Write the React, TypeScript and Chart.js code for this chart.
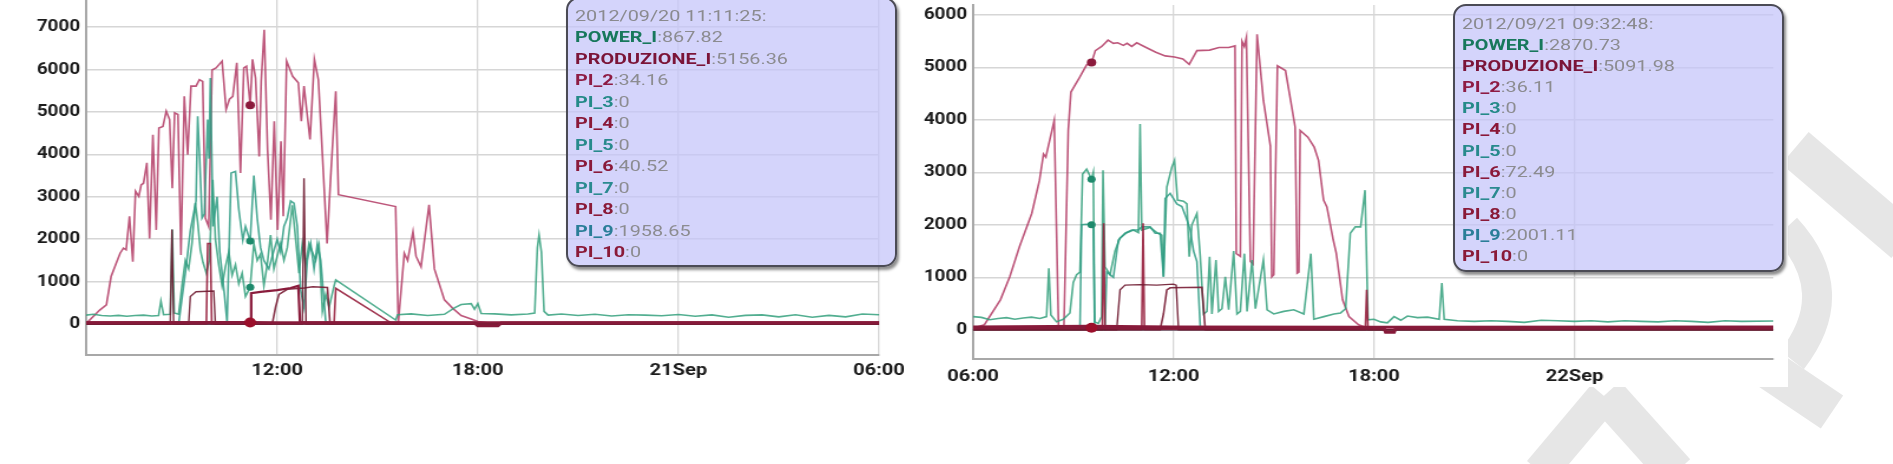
import React, { useEffect, useRef } from "react";
import { Chart, registerables } from "chart.js";

Chart.register(...registerables);

type Pt = [number, number];

// ---------------- DATA ----------------
const SERIES_NAMES = ["POWER_I", "PRODUZIONE_I", "PI_2", "PI_3", "PI_4", "PI_5", "PI_6", "PI_7", "PI_8", "PI_9", "PI_10"];

// Left chart: hours counted from 2012-09-20 00:00
const LEFT_HOVER = 11 + 11 / 60 + 25 / 3600;
const LEFT_HOVER_LABEL = "2012/09/20 11:11:25";
const LEFT_X_TICKS = [12, 18, 24, 30];
const LEFT_X_LABELS = ["12:00", "18:00", "21Sep", "06:00"];
const LEFT_Y_TICKS = [0, 1000, 2000, 3000, 4000, 5000, 6000, 7000];
const LEFT_X_RANGE = [6.28, 30];
const LEFT_Y_RANGE = [-730, 7640];

const L_POWER_I: Pt[] = [
  [6.28, 210], [6.5, 230], [6.75, 200], [7.0, 190], [7.25, 205], [7.5, 185], [7.75, 200], [8.0, 210], [8.25, 190], [8.45, 200],
  [8.52, 540], [8.6, 220], [8.8, 230], [8.86, 2230], [8.92, 260], [9.05, 230], [9.15, 900], [9.25, 1500], [9.35, 1300], [9.45, 1900],
  [9.55, 2850], [9.62, 2400], [9.7, 1750], [9.78, 1450], [9.88, 1200], [9.97, 1500], [10.07, 3400], [10.15, 2000], [10.25, 1400],
  [10.35, 900], [10.45, 1350], [10.55, 1700], [10.65, 1150], [10.75, 1400], [10.85, 950], [10.95, 1200], [11.05, 650],
  [LEFT_HOVER, 867.82], [11.3, 1900], [11.4, 1500], [11.5, 1650], [11.6, 900], [11.7, 1400], [11.8, 2100], [11.9, 1300], [12.0, 1600],
  [12.1, 1900], [12.2, 1500], [12.3, 1800], [12.45, 2800], [12.55, 2000], [12.65, 1200], [12.75, 1900], [12.85, 1400], [12.95, 1900],
  [13.05, 1700], [13.15, 1500], [13.25, 1850], [13.35, 300], [13.45, 700], [13.55, 400], [13.7, 900], [13.75, 1040], [15.54, 95],
  [15.6, 220], [16.0, 240], [16.5, 200], [17.0, 230], [17.3, 380], [17.5, 460], [17.8, 480], [17.9, 350], [18.0, 480], [18.1, 250],
  [18.5, 240], [19.0, 215], [19.5, 235], [19.7, 260], [19.78, 1800], [19.83, 2100], [19.9, 1700], [19.98, 300], [20.1, 210],
  [20.5, 235], [21.0, 200], [21.5, 230], [22.0, 190], [22.5, 220], [23.0, 210], [23.5, 195], [24.0, 225], [24.5, 185], [25.0, 215],
  [25.5, 160], [26.0, 205], [26.5, 215], [27.0, 170], [27.5, 220], [28.0, 160], [28.5, 205], [29.0, 170], [29.5, 235], [30.0, 220],
];
const L_PRODUZIONE_I: Pt[] = [
  [6.28, 10], [6.69, 330], [6.89, 450], [7.03, 1120], [7.18, 1430], [7.3, 1670], [7.4, 1790], [7.48, 1750], [7.58, 2540], [7.68, 1470],
  [7.76, 3130], [7.86, 3010], [7.93, 3280], [8.0, 3320], [8.1, 3800], [8.18, 2020], [8.28, 4460], [8.38, 2220], [8.46, 4620],
  [8.58, 4660], [8.68, 5020], [8.78, 4820], [8.86, 3200], [8.93, 4980], [9.03, 4940], [9.12, 1630], [9.22, 5370], [9.32, 3990],
  [9.42, 5610], [9.57, 5610], [9.67, 5760], [9.77, 5720], [9.85, 2500], [9.95, 2300], [10.05, 5990], [10.17, 6040], [10.35, 6200],
  [10.47, 5060], [10.57, 5300], [10.67, 5370], [10.79, 6160], [10.9, 3560], [11.0, 6040], [11.08, 6080], [LEFT_HOVER, 5156.36],
  [11.26, 6240], [11.35, 5800], [11.46, 3950], [11.52, 5720], [11.61, 6940], [11.71, 4110], [11.81, 2460], [11.91, 4780],
  [12.01, 2220], [12.11, 4310], [12.18, 2540], [12.28, 6200], [12.46, 5840], [12.63, 5690], [12.72, 4780], [12.8, 5610],
  [12.98, 4350], [13.11, 6240], [13.23, 5760], [13.35, 4000], [13.49, 1900], [13.6, 3500], [13.75, 5490], [13.83, 3050],
  [15.54, 2770], [15.62, 20], [15.8, 1670], [15.9, 1500], [16.06, 2180], [16.15, 1600], [16.3, 1350], [16.54, 2810], [16.7, 1300],
  [17.0, 570], [17.25, 370], [17.5, 200], [17.8, 120], [18.0, 60], [18.4, 20], [20, 15], [22, 20], [24, 10], [26, 20], [28, 15], [30, 20],
];
const L_PI_2: Pt[] = [
  [6.28, 30], [LEFT_HOVER, 34.16], [12.0, 30], [17.9, 25], [18.0, -40], [18.6, -40], [18.7, 25], [24, 30], [30, 30],
];
const L_PI_3: Pt[] = [[6.28, 0], [LEFT_HOVER, 0], [30, 0]];
const L_PI_4: Pt[] = [
  [6.28, 0], [8.8, 0], [8.85, 2230], [8.9, 0], [9.35, 0], [9.4, 650], [9.57, 760], [10.1, 780], [10.15, 0], [LEFT_HOVER, 0],
  [12.75, 0], [12.8, 3440], [12.86, 0], [30, 0],
];
const L_PI_5: Pt[] = [[6.28, 0], [LEFT_HOVER, 0], [30, 0]];
const L_PI_6: Pt[] = [[6.28, 40], [LEFT_HOVER, 40.52], [11.22, 730], [11.5, 760], [12.0, 800], [12.4, 850], [12.63, 900], [12.68, 40], [30, 40]];
const L_PI_7: Pt[] = [[6.28, 0], [LEFT_HOVER, 0], [30, 0]];
const L_PI_8: Pt[] = [
  [6.28, 0], [LEFT_HOVER, 0], [11.85, 0], [11.95, 400], [12.05, 700], [12.3, 820], [12.8, 850], [13.06, 880], [13.5, 860], [13.58, 0], [30, 0],
];
const L_PI_9: Pt[] = [
  [6.28, 0], [9.05, 0], [9.25, 1200], [9.4, 2200], [9.57, 2900], [9.62, 4900], [9.68, 3900], [9.75, 2500], [9.82, 2600], [9.92, 4820],
  [9.96, 3900], [10.0, 5800], [10.08, 2300], [10.2, 3000], [10.28, 1700], [10.42, 700], [10.5, 30], [10.62, 3560], [10.75, 3600],
  [10.85, 2700], [10.97, 1980], [11.05, 2300], [LEFT_HOVER, 1958.65], [11.3, 3500], [11.4, 2500], [11.5, 1800], [11.6, 1500],
  [11.75, 1300], [11.85, 1600], [12.0, 2000], [12.1, 1700], [12.2, 2300], [12.3, 2500], [12.4, 2900], [12.5, 2850], [12.6, 2300],
  [12.7, 800], [12.8, 400], [12.9, 1500], [13.0, 1900], [13.1, 1300], [13.2, 1900], [13.3, 1500], [13.45, 60], [13.6, 0], [30, 0],
];
const L_PI_10: Pt[] = [[6.28, 0], [9.88, 0], [9.92, 1900], [10.0, 1900], [10.04, 0], [LEFT_HOVER, 0], [13.7, 0], [13.75, 840], [15.46, 0], [30, 0]];

// Right chart: hours counted from 2012-09-21 00:00
const RIGHT_HOVER = 9 + 32 / 60 + 48 / 3600;
const RIGHT_HOVER_LABEL = "2012/09/21 09:32:48";
const RIGHT_X_TICKS = [6, 12, 18, 24];
const RIGHT_X_LABELS = ["06:00", "12:00", "18:00", "22Sep"];
const RIGHT_Y_TICKS = [0, 1000, 2000, 3000, 4000, 5000, 6000];
const RIGHT_X_RANGE = [6, 29.95];
const RIGHT_Y_RANGE = [-558, 6190];

const R_POWER_I: Pt[] = [
  [6.0, 250], [6.25, 235], [6.5, 190], [6.75, 215], [7.0, 230], [7.25, 200], [7.5, 225], [7.75, 240], [8.0, 215], [8.2, 250],
  [8.27, 1170], [8.33, 280], [8.5, 150], [8.7, 200], [8.9, 320], [9.0, 900], [9.1, 1050], [9.2, 1100], [9.28, 2970], [9.4, 3060],
  [RIGHT_HOVER, 2870.73], [9.6, 3000], [9.64, 150], [9.75, 120], [9.85, 250], [9.89, 3040], [9.95, 1200], [10.1, 1050],
  [10.25, 1500], [10.4, 1750], [10.6, 1850], [10.8, 1900], [10.95, 1850], [11.0, 3920], [11.05, 1900], [11.3, 1950], [11.5, 1850],
  [11.65, 1800], [11.7, 1010], [11.8, 2720], [11.95, 3100], [12.03, 3230], [12.12, 2470], [12.3, 2450], [12.4, 2400], [12.47, 1390],
  [12.55, 2000], [12.7, 2215], [12.8, 1400], [12.9, 300], [13.0, 350], [13.08, 1390], [13.15, 300], [13.27, 1330], [13.35, 350],
  [13.45, 400], [13.55, 1010], [13.65, 380], [13.8, 1500], [13.9, 300], [14.0, 350], [14.12, 1450], [14.2, 350], [14.35, 1330],
  [14.45, 400], [14.69, 1330], [14.8, 380], [15.0, 300], [15.3, 350], [15.6, 380], [15.9, 300], [16.11, 1450], [16.2, 200],
  [16.5, 250], [16.8, 300], [17.0, 320], [17.15, 400], [17.29, 1840], [17.44, 1960], [17.6, 1960], [17.73, 2660], [17.82, 190],
  [18.0, 200], [18.2, 150], [18.4, 130], [18.6, 250], [18.8, 180], [19.0, 260], [19.3, 230], [19.6, 240], [19.95, 200], [20.03, 890],
  [20.1, 200], [20.5, 170], [21, 160], [21.5, 170], [22, 160], [22.5, 140], [23, 180], [23.5, 170], [24, 160], [24.5, 170], [25, 150],
  [25.5, 170], [26, 160], [26.5, 150], [27, 170], [27.5, 160], [28, 140], [28.5, 170], [29, 160], [29.95, 165],
];
const R_PRODUZIONE_I: Pt[] = [
  [6.0, 30], [6.34, 95], [6.82, 570], [7.1, 1010], [7.39, 1580], [7.76, 2220], [7.99, 2850], [8.11, 3350], [8.18, 3290], [8.43, 3990],
  [8.56, 30], [8.72, 30], [8.85, 3800], [8.93, 4530], [9.19, 4810], [9.4, 5050], [RIGHT_HOVER, 5091.98], [9.66, 5320], [9.85, 5400],
  [10.04, 5520], [10.2, 5460], [10.33, 5470], [10.5, 5420], [10.61, 5460], [10.75, 5400], [10.9, 5470], [11.18, 5380], [11.47, 5290],
  [11.75, 5220], [12.03, 5200], [12.28, 5160], [12.47, 5060], [12.7, 5320], [13.08, 5330], [13.36, 5380], [13.65, 5380],
  [13.84, 5410], [13.88, 1450], [14.0, 1400], [14.05, 5500], [14.12, 5400], [14.18, 5570], [14.3, 1300], [14.38, 1250], [14.5, 5630],
  [14.69, 4370], [14.9, 3500], [14.94, 1010], [15.0, 1050], [15.11, 5030], [15.35, 4940], [15.54, 4240], [15.64, 3860], [15.7, 1080],
  [15.75, 1100], [15.79, 3800], [16.02, 3670], [16.21, 3480], [16.34, 3230], [16.49, 2470], [16.59, 2340], [16.78, 1710],
  [16.87, 1460], [17.06, 570], [17.25, 250], [17.54, 95], [17.82, 30], [18.5, 20], [20, 25], [22, 20], [24, 25], [26, 20], [28, 25], [29.95, 20],
];
const R_PI_2: Pt[] = [[6.0, 35], [RIGHT_HOVER, 36.11], [18.3, 30], [18.35, -50], [18.6, -50], [18.65, 30], [29.95, 35]];
const R_PI_3: Pt[] = [[6.0, 0], [RIGHT_HOVER, 0], [29.95, 0]];
const R_PI_4: Pt[] = [[6.0, 0], [RIGHT_HOVER, 0], [10.3, 0], [10.4, 760], [10.55, 850], [11.0, 860], [11.5, 850], [12.0, 870], [12.08, 850], [12.15, 0], [29.95, 0]];
const R_PI_5: Pt[] = [[6.0, 0], [RIGHT_HOVER, 0], [29.95, 0]];
const R_PI_6: Pt[] = [[6.0, 60], [RIGHT_HOVER, 72.49], [12.0, 60], [18.0, 55], [29.95, 60]];
const R_PI_7: Pt[] = [[6.0, 0], [RIGHT_HOVER, 0], [29.95, 0]];
const R_PI_8: Pt[] = [[6.0, 0], [RIGHT_HOVER, 0], [11.6, 0], [11.7, 300], [11.8, 760], [11.9, 800], [12.85, 810], [12.95, 0], [29.95, 0]];
const R_PI_9: Pt[] = [
  [6.0, 0], [9.2, 0], [9.25, 2000], [9.4, 2010], [RIGHT_HOVER, 2001.11], [9.6, 2020], [9.64, 0], [9.95, 0], [10.0, 1100], [10.2, 1000],
  [10.35, 1710], [10.55, 1840], [10.75, 1900], [10.95, 1900], [11.05, 1960], [11.3, 1960], [11.45, 1840], [11.6, 1840], [11.7, 1010],
  [11.75, 2500], [11.9, 2600], [12.1, 2400], [12.25, 2350], [12.4, 2100], [12.5, 1900], [12.6, 1500], [12.7, 1300], [12.8, 60],
  [13.0, 0], [29.95, 0],
];
const R_PI_10: Pt[] = [
  [6.0, 0], [RIGHT_HOVER, 0], [9.87, 0], [9.91, 2030], [9.95, 0], [11.05, 0], [11.09, 2030], [11.13, 0], [17.74, 0], [17.78, 760], [17.82, 0], [29.95, 0],
];

const LEFT_SERIES = [L_POWER_I, L_PRODUZIONE_I, L_PI_2, L_PI_3, L_PI_4, L_PI_5, L_PI_6, L_PI_7, L_PI_8, L_PI_9, L_PI_10];
const RIGHT_SERIES = [R_POWER_I, R_PRODUZIONE_I, R_PI_2, R_PI_3, R_PI_4, R_PI_5, R_PI_6, R_PI_7, R_PI_8, R_PI_9, R_PI_10];

// ---------------- STYLES ----------------
const S = 1.18; // horizontal stretch of the screenshot
const BOX_H = 400;
const LINE_COLORS = [
  "rgba(52,160,125,0.85)", "rgba(178,58,100,0.85)", "#861a3a", "#2a8a8a", "rgba(110,26,48,0.9)", "#2a8a8a",
  "#8a1c3c", "#2a8a8a", "rgba(120,28,52,0.9)", "rgba(45,155,130,0.85)", "rgba(150,30,60,0.9)",
];
const LINE_WIDTHS = [1.6, 1.6, 3, 1.2, 1.4, 1.2, 2.2, 1.2, 1.6, 1.6, 1.6];
const ORDERS = [4, 5, 0, 7, 2, 7, 1, 7, 2, 3, 2];
const DOT_RADII = [3.5, 4, 5, 0, 0, 0, 0, 0, 0, 3.5, 0];
const DOT_COLORS = ["#1e8a6c", "#8b1a3c", "#9b0f2b", "#2a8a8a", "#8a1a38", "#2a8a8a", "#8a1a38", "#2a8a8a", "#8a1a38", "#1e8a6c", "#8a1a38"];
const NAME_COLORS = ["#17785c", "#7b1438", "#8e1c44", "#248a88", "#8a1838", "#278a8c", "#8a1a3a", "#2a8a90", "#8a1a38", "#2a7e98", "#8a1a38"];

type ChartProps = {
  series: Pt[][];
  hover: number;
  xRange: number[];
  yRange: number[];
  xTicks: number[];
  xLabels: string[];
  yTicks: number[];
  boxLeft: number;
  boxWidth: number;
  areaLeft: number;
  areaRight: number;
  areaTop: number;
  areaBottom: number;
  labelPad: number;
};

function LineChart(p: ChartProps) {
  const ref = useRef<HTMLCanvasElement>(null);
  const w = p.boxWidth / S;
  useEffect(() => {
    const chart = new Chart(ref.current as HTMLCanvasElement, {
      type: "line",
      data: {
        datasets: SERIES_NAMES.map((name, i) => ({
          label: name,
          data: p.series[i].map(([x, y]) => ({ x, y })),
          borderColor: LINE_COLORS[i],
          borderWidth: LINE_WIDTHS[i],
          order: ORDERS[i],
          tension: 0,
          fill: false,
          pointRadius: (ctx: any) => (ctx.raw && ctx.raw.x === p.hover ? DOT_RADII[i] : 0),
          pointBackgroundColor: DOT_COLORS[i],
          pointBorderWidth: 0,
          pointHoverRadius: 0,
        })),
      },
      options: {
        responsive: false,
        animation: false,
        events: [],
        layout: { padding: { left: 0, top: p.areaTop, right: (p.boxWidth - p.areaRight) / S, bottom: 0 } },
        plugins: { legend: { display: false }, tooltip: { enabled: false } },
        scales: {
          x: {
            type: "linear",
            min: p.xRange[0],
            max: p.xRange[1],
            afterBuildTicks: (s: any) => {
              s.ticks = p.xTicks.map((v) => ({ value: v }));
            },
            afterFit: (s: any) => {
              s.height = BOX_H - p.areaBottom;
              s.paddingLeft = 0;
              s.paddingRight = 0;
            },
            ticks: {
              autoSkip: false,
              maxRotation: 0,
              padding: p.labelPad,
              color: "#1c1c1c",
              font: { family: "Roboto", size: 17, weight: "bold" },
              callback: (v: any) => {
                const k = p.xTicks.indexOf(Number(v));
                return k >= 0 ? p.xLabels[k] : "";
              },
            },
            grid: { color: "#d6d6d6", lineWidth: 1.3, drawTicks: false },
            border: { display: true, color: "#a8a8a8", width: 2 },
          },
          y: {
            type: "linear",
            min: p.yRange[0],
            max: p.yRange[1],
            afterBuildTicks: (s: any) => {
              s.ticks = p.yTicks.map((v) => ({ value: v }));
            },
            afterFit: (s: any) => {
              s.width = p.areaLeft / S;
              s.paddingTop = 0;
              s.paddingBottom = 0;
            },
            ticks: {
              padding: 5,
              color: "#1c1c1c",
              font: { family: "Roboto", size: 16, weight: "bold" },
              callback: (v: any) => String(v),
            },
            grid: { color: "#d6d6d6", lineWidth: 1.5, drawTicks: false },
            border: { display: true, color: "#a8a8a8", width: 2 },
          },
        },
      },
    } as any);
    return () => chart.destroy();
  }, []);
  return (
    <div
      style={{
        position: "absolute",
        left: p.boxLeft,
        top: 0,
        width: w,
        height: BOX_H,
        transform: `scaleX(${S})`,
        transformOrigin: "0 0",
      }}
    >
      <canvas ref={ref} width={Math.round(w)} height={BOX_H} style={{ width: Math.round(w), height: BOX_H, display: "block" }} />
    </div>
  );
}

function TipBox(props: {
  left: number; top: number; width: number; height: number; padTop: number; lineH: number;
  header: string; series: Pt[][]; hover: number;
}) {
  const values = props.series.map((s) => {
    const f = s.find((q) => q[0] === props.hover);
    return f ? f[1] : 0;
  });
  return (
    <div
      style={{
        position: "absolute",
        left: props.left,
        top: props.top,
        width: props.width,
        height: props.height,
        boxSizing: "border-box",
        background: "rgba(196,196,250,0.72)",
        border: "2px solid #4b4b55",
        borderRadius: 13,
        boxShadow: "2px 3px 3px rgba(0,0,0,0.45)",
        zIndex: 5,
        overflow: "hidden",
      }}
    >
      <div
        style={{
          transform: "scaleX(1.32)",
          transformOrigin: "0 0",
          paddingLeft: 7 / 1.32,
          paddingTop: props.padTop,
          fontFamily: "Roboto",
          fontSize: 15,
          lineHeight: `${props.lineH}px`,
          whiteSpace: "nowrap",
        }}
      >
        <div style={{ color: "#8a8a8e" }}>{props.header}:</div>
        {SERIES_NAMES.map((n, i) => (
          <div key={n}>
            <span style={{ color: NAME_COLORS[i], fontWeight: 700 }}>{n}</span>
            <span style={{ color: "#8c8c90" }}>:{String(values[i])}</span>
          </div>
        ))}
      </div>
    </div>
  );
}

export default function App() {
  return (
    <div style={{ position: "absolute", left: 0, top: 0, width: 1893, height: 464, background: "#ffffff", overflow: "hidden" }}>
      <svg width={1893} height={464} style={{ position: "absolute", left: 0, top: 0 }}>
        <g stroke="#e6e6e6" fill="none" strokeLinecap="butt">
          <path d="M1795,148 L1905,242" strokeWidth={42} />
          <path d="M1786,228 Q1845,292 1792,360" strokeWidth={30} />
          <path d="M1722,338 L1832,412" strokeWidth={40} />
          <path d="M1606,394 L1676,472" strokeWidth={38} />
          <path d="M1604,396 L1540,472" strokeWidth={34} />
        </g>
        <rect x={0} y={0} width={1788} height={387} fill="#ffffff" />
      </svg>
      <LineChart
        series={LEFT_SERIES}
        hover={LEFT_HOVER}
        xRange={LEFT_X_RANGE}
        yRange={LEFT_Y_RANGE}
        xTicks={LEFT_X_TICKS}
        xLabels={LEFT_X_LABELS}
        yTicks={LEFT_Y_TICKS}
        boxLeft={0}
        boxWidth={905}
        areaLeft={86}
        areaRight={879}
        areaTop={0}
        areaBottom={355}
        labelPad={6}
      />
      <LineChart
        series={RIGHT_SERIES}
        hover={RIGHT_HOVER}
        xRange={RIGHT_X_RANGE}
        yRange={RIGHT_Y_RANGE}
        xTicks={RIGHT_X_TICKS}
        xLabels={RIGHT_X_LABELS}
        yTicks={RIGHT_Y_TICKS}
        boxLeft={900}
        boxWidth={900}
        areaLeft={73}
        areaRight={873}
        areaTop={5}
        areaBottom={359}
        labelPad={8}
      />
      <TipBox left={566} top={-3} width={331} height={270} padTop={7} lineH={21.45} header={LEFT_HOVER_LABEL} series={LEFT_SERIES} hover={LEFT_HOVER} />
      <TipBox left={1453} top={4} width={331} height={268} padTop={8} lineH={21.1} header={RIGHT_HOVER_LABEL} series={RIGHT_SERIES} hover={RIGHT_HOVER} />
    </div>
  );
}
